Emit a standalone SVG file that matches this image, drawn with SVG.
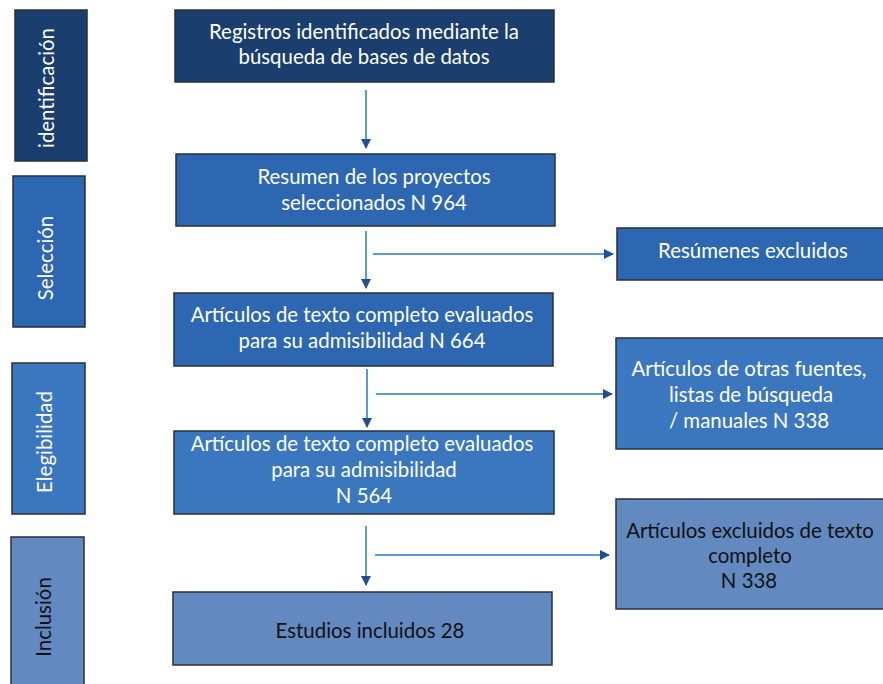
<svg xmlns="http://www.w3.org/2000/svg" width="883" height="684" viewBox="0 0 883 684">
<defs>
<marker id="ah" markerWidth="10" markerHeight="10" refX="9" refY="5" orient="auto" markerUnits="userSpaceOnUse">
<path d="M0,0 L10,5 L0,10 Z" fill="#1f4f94"/>
</marker>
<style>
.b{stroke:#2a2f38;stroke-width:1.5}
.c1{fill:#1a3e6e}
.c2{fill:#2e67b1}
.c3{fill:#3b77bf}
.c4{fill:#6389c1}
text{font-family:Lato,"Open Sans","Liberation Sans",sans-serif;font-size:20.4px;text-anchor:middle}
.w{fill:#ffffff}
.k{fill:#111111}
.ln{stroke:#5b9bd5;stroke-width:2;fill:none}
</style>
</defs>
<rect width="883" height="684" fill="#ffffff"/>
<g id="stage-identificacion"><rect class="b c1" x="15" y="10" width="72" height="151"/><text class="w" transform="translate(47,88) rotate(-90)" dy="7">identificación</text></g>
<g id="stage-seleccion"><rect class="b c2" x="13" y="176" width="72" height="151"/><text class="w" transform="translate(46,258) rotate(-90)" dy="7">Selección</text></g>
<g id="stage-elegibilidad"><rect class="b c3" x="12" y="363" width="73" height="151"/><text class="w" transform="translate(45,442) rotate(-90)" dy="7">Elegibilidad</text></g>
<g id="stage-inclusion"><rect class="b c4" x="11" y="537" width="73" height="150"/><text class="k" transform="translate(44,617) rotate(-90)" dy="7">Inclusión</text></g>

<g id="n1"><rect class="b c1" x="175" y="10" width="379" height="72"/><text class="w" x="364" y="39">Registros identificados mediante la</text><text class="w" x="364" y="64">búsqueda de bases de datos</text></g>
<g id="n2"><rect class="b c2" x="176" y="154" width="379" height="72"/><text class="w" x="374" y="184">Resumen de los proyectos</text><text class="w" x="374" y="210">seleccionados N 964</text></g>
<g id="n3"><rect class="b c2" x="174" y="293" width="379" height="73"/><text class="w" x="362" y="322">Artículos de texto completo evaluados</text><text class="w" x="362" y="348">para su admisibilidad N 664</text></g>
<g id="n4"><rect class="b c3" x="174" y="431" width="380" height="83"/><text class="w" x="362" y="451">Artículos de texto completo evaluados</text><text class="w" x="364" y="477">para su admisibilidad</text><text class="w" x="364" y="503">N 564</text></g>
<g id="n5"><rect class="b c4" x="173" y="592" width="379" height="73"/><text class="k" x="370" y="638">Estudios incluidos 28</text></g>

<g id="r1"><rect class="b c2" x="617" y="228" width="270" height="52"/><text class="w" x="753" y="258">Resúmenes excluidos</text></g>
<g id="r2"><rect class="b c3" x="616" y="338" width="271" height="111"/><text class="w" x="749" y="376">Artículos de otras fuentes,</text><text class="w" x="751" y="402">listas de búsqueda</text><text class="w" x="749" y="428">/ manuales N 338</text></g>
<g id="r3"><rect class="b c4" x="616" y="499" width="271" height="110"/><text class="k" x="750" y="538">Artículos excluidos de texto</text><text class="k" x="750" y="563">completo</text><text class="k" x="749" y="588">N 338</text></g>

<g id="connectors">
<line class="ln" x1="366" y1="90" x2="366" y2="148" marker-end="url(#ah)"/>
<line class="ln" x1="366" y1="231" x2="366" y2="288" marker-end="url(#ah)"/>
<line class="ln" x1="373" y1="254" x2="613" y2="254" marker-end="url(#ah)"/>
<line class="ln" x1="367" y1="369" x2="367" y2="427" marker-end="url(#ah)"/>
<line class="ln" x1="376" y1="394" x2="612" y2="394" marker-end="url(#ah)"/>
<line class="ln" x1="366" y1="526" x2="366" y2="585" marker-end="url(#ah)"/>
<line class="ln" x1="375" y1="555" x2="609" y2="555" marker-end="url(#ah)"/>
</g>
</svg>
